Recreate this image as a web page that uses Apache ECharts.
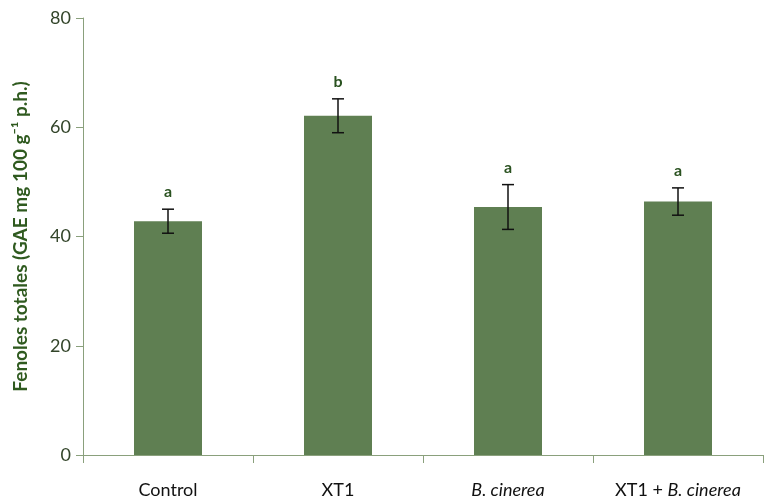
<!DOCTYPE html>
<html>
<head>
<meta charset="utf-8">
<script src="https://cdn.jsdelivr.net/npm/echarts@6/dist/echarts.min.js"></script>
<style>html,body{margin:0;padding:0;background:#fff}#c{width:768px;height:501px}</style>
</head>
<body>
<div id="c"></div>
<script>
var categories = ['Control', 'XT1', 'B. cinerea', 'XT1 + B. cinerea'];
var means = [42.8, 62.1, 45.4, 46.4];
var errors = [2.2, 3.1, 4.1, 2.5];
var letters = ['a', 'b', 'a', 'a'];
var yTicks = [0, 20, 40, 60, 80];

var chart = echarts.init(document.getElementById('c'));
var axisColor = '#8aa07c';
var font = 'Lato, "Open Sans", sans-serif';

var errData = categories.map(function (c, i) { return [i, means[i], errors[i], letters[i]]; });

chart.setOption({
  animation: false,
  grid: { left: 83, right: 5, top: 18, bottom: 46, containLabel: false, outerBoundsMode: 'none' },
  xAxis: {
    type: 'category',
    data: categories,
    axisLine: { lineStyle: { color: axisColor, width: 1 } },
    axisTick: { show: true, length: 8, lineStyle: { color: axisColor } },
    axisLabel: {
      interval: 0,
      margin: 26,
      fontSize: 18,
      fontFamily: font,
      color: '#111',
      formatter: function (v) {
        if (v === 'B. cinerea') return '{i|B. cinerea}';
        if (v === 'XT1 + B. cinerea') return 'XT1 + {i|B. cinerea}';
        return v;
      },
      rich: { i: { fontStyle: 'italic', fontSize: 18, fontFamily: font, color: '#111' } }
    }
  },
  yAxis: {
    type: 'value',
    min: 0, max: 80, interval: 20,
    name: 'Fenoles totales (GAE mg 100 g⁻¹ p.h.)',
    nameLocation: 'middle',
    nameGap: 53,
    nameTextStyle: { fontSize: 19, fontWeight: 'bold', color: '#2f5a1f', fontFamily: font },
    axisLine: { show: true, lineStyle: { color: axisColor, width: 1 } },
    axisTick: { show: true, length: 7, lineStyle: { color: axisColor } },
    splitLine: { show: false },
    axisLabel: {
      fontSize: 18, fontFamily: font, color: '#33452a', margin: 12,
      formatter: function (v) { return yTicks.indexOf(v) >= 0 ? String(v) : ''; }
    }
  },
  series: [
    {
      type: 'bar',
      data: means,
      barWidth: '40%',
      itemStyle: { color: '#5f7f52' },
      z: 2
    },
    {
      type: 'custom',
      data: errData,
      z: 5,
      renderItem: function (params, api) {
        var i = api.value(0), m = api.value(1), e = api.value(2);
        var top = api.coord([i, m + e]);
        var bot = api.coord([i, m - e]);
        var cap = 6;
        var st = { stroke: '#111', lineWidth: 1.5 };
        return {
          type: 'group',
          children: [
            { type: 'line', shape: { x1: top[0], y1: top[1], x2: bot[0], y2: bot[1] }, style: st },
            { type: 'line', shape: { x1: top[0] - cap, y1: top[1], x2: top[0] + cap, y2: top[1] }, style: st },
            { type: 'line', shape: { x1: bot[0] - cap, y1: bot[1], x2: bot[0] + cap, y2: bot[1] }, style: st },
            { type: 'text', style: { text: letters[params.dataIndex], x: top[0], y: top[1] - 17, align: 'center', verticalAlign: 'middle', fontSize: 16, fontWeight: 'bold', fontFamily: font, fill: '#2a5220' } }
          ]
        };
      }
    }
  ]
});
</script>
</body>
</html>
